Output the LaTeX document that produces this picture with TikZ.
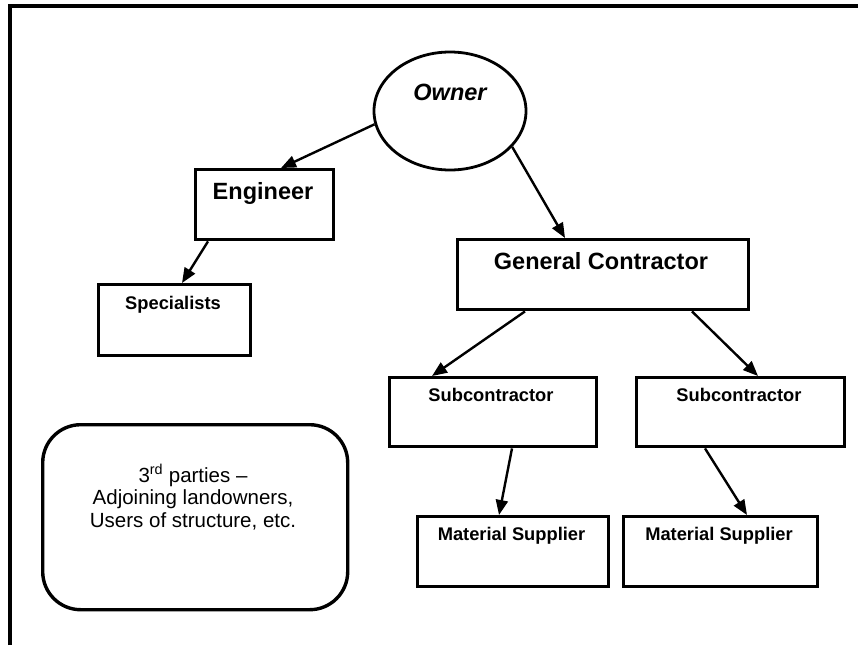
\documentclass[tikz,border=0pt]{standalone}
\usepackage{fontspec}
\setmainfont{Liberation Sans}
\usetikzlibrary{arrows.meta,shapes.geometric}
\begin{document}
\begin{tikzpicture}[x=1pt,y=-1pt,
  box/.style={draw,line width=3.4pt,rectangle,inner sep=0pt,anchor=north west},
  small/.style={inner sep=0pt,text height=13.1pt,text depth=0pt,font=\bfseries\fontsize{18.3}{22}\selectfont},
  big/.style={inner sep=0pt,text height=16.8pt,text depth=0pt,font=\bfseries\fontsize{23.5}{28}\selectfont},
  arr/.style={line width=2.4pt,-{Triangle[length=15pt,width=12pt]}}]
\useasboundingbox (0,0) rectangle (858,645);
\draw[line width=3.2pt] (10,645) -- (10,6) -- (858,6);

% owner
\node[draw,ellipse,line width=2.8pt,minimum width=152,minimum height=118,inner sep=0pt] (own) at (450,111) {};
\node[big,font=\bfseries\itshape\fontsize{23.5}{28}\selectfont] (ownt) at (450,92) {Owner};

% boxes
\node[box,minimum width=138,minimum height=70] (eng) at (194,168) {};
\node[big] (engt) at (263,191.5) {Engineer};
\node[box,minimum width=152,minimum height=71] (spec) at (97,283) {};
\node[small] (spect) at (173,303) {Specialists};
\node[box,minimum width=291,minimum height=70] (gc) at (456,238) {};
\node[big] (gct) at (601,261) {General Contractor};
\node[box,minimum width=207,minimum height=69] (subl) at (388,376) {};
\node[small] (sublt) at (491,395) {Subcontractor};
\node[box,minimum width=208,minimum height=69] (subr) at (635,376) {};
\node[small] (subrt) at (739,395) {Subcontractor};
\node[box,minimum width=191,minimum height=70] (matl) at (416,515) {};
\node[small] (matlt) at (511.5,534) {Material Supplier};
\node[box,minimum width=194,minimum height=70] (matr) at (622,515) {};
\node[small] (matrt) at (719,534) {Material Supplier};

% third parties
\node[box,rounded corners=38pt,minimum width=305,minimum height=185] (third) at (41,423) {};
\node[inner sep=0pt,align=center,font=\fontsize{20.5}{22.5}\selectfont] (thirdt) at (193,497)
  {3\textsuperscript{rd} parties --\\Adjoining landowners,\\Users of structure, etc.};

% arrows
\draw[arr] (own.190) -- ([xshift=87pt]eng.north west);
\draw[arr] (own.-30.5) -- ([xshift=109pt]gc.north west);
\draw[arr] ([xshift=14pt]eng.south west) -- ([xshift=85pt]spec.north west);
\draw[arr] ([xshift=69pt]gc.south west) -- ([xshift=44pt]subl.north west);
\draw[arr] ([xshift=236pt]gc.south west) -- ([xshift=123pt]subr.north west);
\draw[arr] ([xshift=124pt]subl.south west) -- ([xshift=83pt]matl.north west);
\draw[arr] ([xshift=70pt]subr.south west) -- ([xshift=125pt]matr.north west);
\end{tikzpicture}
\end{document}
